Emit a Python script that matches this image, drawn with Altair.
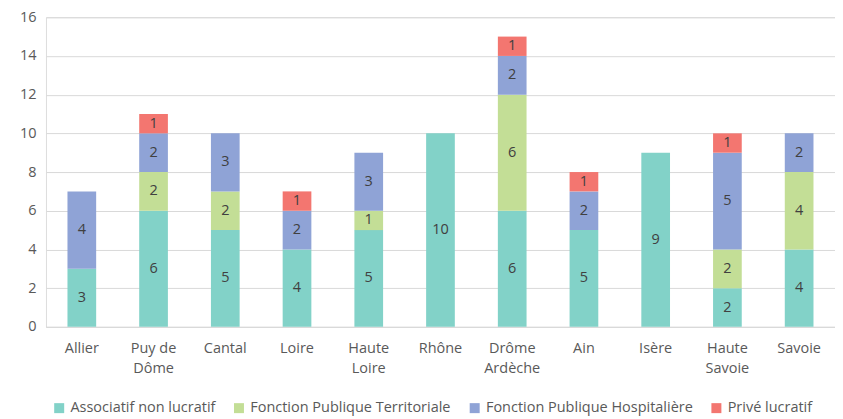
import altair as alt
import pandas as pd

categories = ["Allier", "Puy de\nDôme", "Cantal", "Loire", "Haute\nLoire", "Rhône",
              "Drôme\nArdèche", "Ain", "Isère", "Haute\nSavoie", "Savoie"]
series = ["Associatif non lucratif", "Fonction Publique Territoriale",
          "Fonction Publique Hospitalière", "Privé lucratif"]
associatif = [3, 6, 5, 4, 5, 10, 6, 5, 9, 2, 4]
territoriale = [0, 2, 2, 0, 1, 0, 6, 0, 0, 2, 4]
hospitaliere = [4, 2, 3, 2, 3, 0, 2, 2, 0, 5, 2]
prive = [0, 1, 0, 1, 0, 0, 1, 1, 0, 1, 0]
y_ticks = [0, 2, 4, 6, 8, 10, 12, 14, 16]
colors = ["#82d2c8", "#c3de96", "#8fa3d6", "#f37670"]

rows = []
for s_i, (s, vals) in enumerate(zip(series, [associatif, territoriale, hospitaliere, prive])):
    for c, v in zip(categories, vals):
        if v > 0:
            rows.append({"cat": c, "series": s, "value": v, "ord": s_i})
df = pd.DataFrame(rows)

FONT = "Open Sans"
FS = 14.5

y_scale = alt.Scale(domain=[0, 16], nice=False)
y_axis = alt.Axis(values=y_ticks, labelFontSize=FS, labelColor="#595959", labelFont=FONT,
                  ticks=False, domain=False, gridColor="#d9d9d9", labelPadding=10,
                  labelOverlap=False)

base = alt.Chart(df).encode(
    x=alt.X("cat:N", sort=categories, title=None,
            scale=alt.Scale(paddingInner=0.6, paddingOuter=0.3),
            axis=alt.Axis(labelExpr="split(datum.label, '\\n')", labelAngle=0,
                          labelFontSize=FS, labelColor="#595959", labelFont=FONT,
                          ticks=False, domainColor="#d9d9d9", labelPadding=15,
                          labelLineHeight=20)),
    order=alt.Order("ord:Q", sort="ascending"),
)

bars = base.mark_bar().encode(
    y=alt.Y("value:Q", stack="zero", title=None, scale=y_scale, axis=y_axis),
    color=alt.Color("series:N", sort=series,
                    scale=alt.Scale(domain=series, range=colors),
                    legend=alt.Legend(title=None, orient="none", direction="horizontal",
                                      legendX=6, legendY=384, symbolType="square",
                                      symbolSize=100, labelFontSize=FS, labelFont=FONT,
                                      labelColor="#595959", columnPadding=16,
                                      labelLimit=0, symbolStrokeWidth=0)),
)

labels = base.mark_text(fontSize=FS, font=FONT, color="#404040").encode(
    y=alt.Y("mid:Q", title=None, scale=y_scale, axis=y_axis),
    text=alt.Text("value:Q"),
).transform_stack(
    stack="value", groupby=["cat"], as_=["lo", "hi"],
    sort=[alt.SortField("ord", order="ascending")]
).transform_calculate(mid="(datum.lo + datum.hi) / 2")

chart = alt.layer(bars, labels).properties(
    width=790, height=310,
    padding={"left": 38, "top": 9, "right": 0, "bottom": 92},
    autosize=alt.AutoSizeParams(type="none"),
).configure_view(stroke=None).configure(background="white")

chart.save("out.html", embed_options={"renderer": "svg", "actions": False})
